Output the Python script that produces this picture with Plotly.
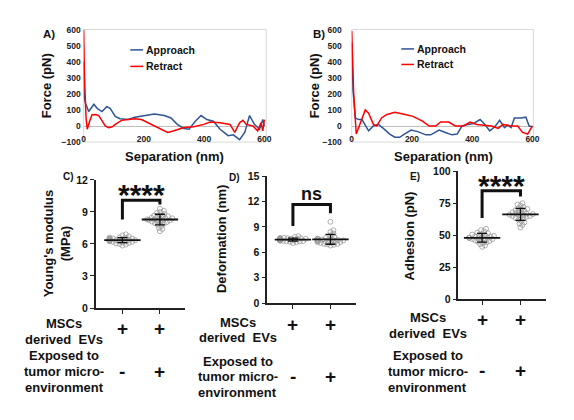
import numpy as np
import plotly.graph_objects as go

# the page body keeps its default 8px margin, so the figure is drawn 8px in from the corner
PAGE_W, PAGE_H, PAD = 574, 420, 8
W, H = PAGE_W - 2 * PAD, PAGE_H - 2 * PAD
FONT = "Liberation Sans, Arial, sans-serif"
BLUE = "#2F5597"
RED = "#FF0000"

###### Data

# A) force curves (separation nm, force pN)
A_APP_X = [0, 2, 6.5, 17, 34, 45, 61, 77, 88, 105, 121, 148, 170, 203, 235, 268, 290, 311,
           333, 350, 371, 390, 409, 431, 453, 480, 497, 518, 535, 551, 567, 584, 595, 600]
A_APP_Y = [400, 180, 140, 90, 135, 110, 90, 120, 110, 60, 45, 40, 55, 65, 75, 65, 50, 10,
           -15, -20, 30, 65, 40, 30, -20, -60, -55, -85, -40, 65, 10, -20, 40, 0]
A_RET_X = [0, 3, 8, 12, 20, 28, 40, 50, 62, 72, 83, 95, 105, 126, 148, 170, 192, 213, 246,
           279, 300, 333, 366, 399, 420, 453, 486, 502, 518, 529, 540, 562, 578, 589, 595, 600]
A_RET_Y = [600, 300, 50, -20, 30, 70, 72, 65, 30, 0, -10, -5, 10, 35, 40, 45, 40, 20, -10,
           -40, -30, -10, -5, 10, 25, 20, 10, -40, 20, 35, 10, 0, -30, 20, -30, 40]

# B) force curves
B_APP_X = [0, 4.4, 12, 23, 34, 45, 56, 72, 88, 105, 126, 143, 159, 175, 197, 219, 246, 262,
           290, 311, 333, 350, 366, 388, 404, 426, 442, 458, 475, 491, 507, 518, 529, 540,
           562, 578, 589, 600]
B_APP_Y = [520, 220, 50, 40, 40, 0, -30, 0, 10, -15, -50, -70, -70, -50, -25, -35, -55, -55,
           -25, -40, -55, -50, 0, 10, 15, 40, 10, -30, -5, 35, -10, 5, -10, 50,
           50, 55, 0, -5]
B_RET_X = [0, 6.5, 15, 28, 45, 56, 72, 83, 99, 115, 143, 170, 203, 235, 257, 279, 295, 322,
           344, 371, 393, 415, 442, 464, 486, 502, 529, 551, 567, 584, 595, 600]
B_RET_Y = [590, 200, -50, 20, 100, 80, 10, 0, 50, 70, 85, 75, 60, 30, 0, 0, 25, 25,
           0, 0, 25, 10, 5, 0, -15, 10, 0, 0, -40, -50, -15, 0]

# C) Young's modulus (MPa)
C_CTRL = [6.35, 6.2, 6.5, 6.4, 6.1, 6.6, 6.3, 6.45, 5.95, 6.8, 6.25, 6.55, 6.35, 6.15, 6.7,
          6.4, 6.0, 6.3, 6.9, 6.2, 6.5, 6.35, 6.05, 6.45, 6.6, 6.25, 6.4, 5.85, 6.3, 6.5]
C_TME = [8.3, 8.0, 8.6, 8.2, 7.8, 8.9, 8.4, 7.5, 8.7, 8.1, 9.3, 8.35, 7.9, 8.5, 8.25,
         7.2, 8.8, 8.45, 8.05, 9.0, 7.7, 8.3, 8.55, 7.4, 8.15, 8.65, 8.4, 7.95, 9.1, 8.2]
# D) Deformation (nm)
D_CTRL = [7.5, 7.4, 7.6, 7.55, 7.3, 7.7, 7.45, 7.5, 7.2, 7.8, 7.35, 7.65, 7.5, 7.4, 7.9,
          7.55, 7.25, 7.6, 7.45, 7.5, 7.7, 7.35, 7.1, 7.6, 7.5, 7.4, 7.65, 7.55, 7.3, 7.5]
D_TME = [7.4, 7.2, 7.6, 7.0, 7.5, 9.6, 7.3, 7.8, 6.9, 8.4, 7.45, 7.1, 7.65, 8.6, 7.35,
         6.8, 7.55, 7.25, 8.0, 7.4, 7.0, 7.7, 7.15, 7.5, 8.2, 7.3, 6.95, 7.6, 7.4, 7.2]
# E) Adhesion (pN)
E_CTRL = [48, 46, 50, 47, 44, 52, 49, 45, 55, 48.5, 42, 51, 47.5, 46.5, 53, 41, 49.5, 48,
          44.5, 50.5, 47, 43, 54, 48, 46, 51.5, 49, 45.5, 48, 50]
E_TME = [66, 64, 69, 62, 67, 72, 65, 60, 75, 68, 63, 70, 66.5, 58, 71, 64.5, 67.5, 56,
         69.5, 65.5, 73, 61, 68.5, 66, 63.5, 70.5, 59, 67, 74, 65]

# significance brackets: (left foot, top, right foot), label
C_BRACKET = (8.3, 10.1, 9.7)
D_BRACKET = (9.1, 11.65, 10.6)
E_BRACKET = (63.4, 84.8, 80.3)
C_SIG, D_SIG, E_SIG = "****", "ns", "****"
C_SIG_Y, D_SIG_Y, E_SIG_Y = 11.2, 12.9, 93.7

ROW_LABELS = ["MSCs", "derived\u00a0 EVs", "Exposed to", "tumor micro-", "environment"]
MSC_SIGNS = ["+", "+"]
TME_SIGNS = ["-", "+"]


###### Helpers

def px(x):
    # page pixel -> paper fraction
    return (x - PAD) / W


def py(y):
    return 1 - (y - PAD) / H


def note(x, y, text, size, xref="paper", yref="paper", **kw):
    kw.setdefault("xanchor", "center")
    kw.setdefault("yanchor", "middle")
    fig.add_annotation(x=x, y=y, xref=xref, yref=yref, text=text, showarrow=False,
                       font=dict(family=FONT, size=size, color="#111"), **kw)


def swarm(values, center, ppx, ppy, diam=3.2, maxoff=13):
    # simple beeswarm: place points in value order at the nearest free horizontal offset
    vals = np.asarray(values, dtype=float)
    offs = np.zeros(len(vals))
    placed = []
    cands = [0]
    for k in np.arange(0.5, maxoff + 0.01, 0.5):
        cands += [k, -k]
    for i in np.argsort(vals):
        yp = vals[i] * ppy
        chosen = cands[-1]
        for c in cands:
            if all((c - xo) ** 2 + (yp - yo) ** 2 >= diam ** 2 for xo, yo in placed):
                chosen = c
                break
        placed.append((chosen, yp))
        offs[i] = chosen
    return center + offs / ppx


fig = go.Figure()

###### A & B force curves

def force_panel(n, app_x, app_y, ret_x, ret_y, xdom, xrange, standoff):
    xa, ya = ("x", "y") if n == 1 else (f"x{n}", f"y{n}")
    fig.add_trace(go.Scatter(x=app_x, y=app_y, mode="lines", line=dict(color=BLUE, width=1.5),
                             xaxis=xa, yaxis=ya, showlegend=False))
    fig.add_trace(go.Scatter(x=ret_x, y=ret_y, mode="lines", line=dict(color=RED, width=1.5),
                             xaxis=xa, yaxis=ya, showlegend=False))
    sx = "" if n == 1 else str(n)
    fig.update_layout(**{
        f"xaxis{sx}": dict(domain=[px(xdom[0]), px(xdom[1])], range=xrange, anchor="free",
                          position=py(130), tickvals=[0, 200, 400, 600], showline=False,
                          showgrid=False, zeroline=False, ticks="",
                          tickfont=dict(family=FONT, size=8.5, color="#222", weight="bold")),
        f"yaxis{sx}": dict(domain=[py(140), py(24)], range=[-100, 600], anchor=xa,
                          tickvals=list(range(-100, 601, 100)), showline=False, showgrid=False,
                          zeroline=True, zerolinecolor="#bfbfbf", zerolinewidth=1, ticks="",
                          ticklabelstandoff=standoff,
                          tickfont=dict(family=FONT, size=8.5, color="#222", weight="bold")),
    })
    fig.add_shape(type="rect", xref=f"{xa} domain", yref=f"{ya} domain", x0=0, x1=1, y0=0, y1=1,
                  line=dict(color="#d9d9d9", width=1), layer="below")


force_panel(1, A_APP_X, A_APP_Y, A_RET_X, A_RET_Y, (82.7, 268), [0, 606.5], 2)
force_panel(2, B_APP_X, B_APP_Y, B_RET_X, B_RET_Y, (354.7, 539), [0, 603], 9)

# legends, axis titles, panel letters for A/B
for lx, ly0, ly1 in [(130, 45, 62), (405, 44, 60)]:
    for yy, col, name in [(ly0, BLUE, "Approach"), (ly1, RED, "Retract")]:
        fig.add_shape(type="line", xref="paper", yref="paper", x0=px(lx), x1=px(lx + 13),
                      y0=py(yy), y1=py(yy), line=dict(color=col, width=1.5))
        note(px(lx + 13.5), py(yy), f"<b>{name}</b>", 10.5, xanchor="left")

for cx, tx, letter, lx in [(45, 174.5, "A)", 39), (317, 447.5, "B)", 313)]:
    note(px(cx), py(82), "<b>Force (pN)</b>", 13, textangle=-90)
    note(px(tx), py(155), "<b>Separation (nm)</b>", 13)
    note(px(lx), py(29), f"<b>{letter}</b>", 11.5, xanchor="left")

###### C, D, E scatter panels

def dot_panel(n, ctrl, tme, xdom, xrange, ydom, yrange, ytick, bracket, sig, sig_y, sig_size,
              sig_shift, ytitle, ytitle_pos, letter, letter_pos, label_cx, label_ys, sign_ys):
    xa, ya = f"x{n}", f"y{n}"
    ppx = (xdom[1] - xdom[0]) / (xrange[1] - xrange[0])
    ppy = (ydom[0] - ydom[1]) / (yrange[1] - yrange[0])
    for cat, vals in [(1, ctrl), (2, tme)]:
        fig.add_trace(go.Scatter(
            x=swarm(vals, cat, ppx, ppy), y=vals, mode="markers", xaxis=xa, yaxis=ya,
            marker=dict(symbol="circle-open", size=5, color="#9a9a9a", line=dict(width=0.8)),
            showlegend=False))
        fig.add_trace(go.Scatter(
            x=[cat], y=[np.mean(vals)], mode="markers", xaxis=xa, yaxis=ya,
            marker=dict(symbol="line-ew-open", size=26, color="#111", line=dict(width=1.8, color="#111")),
            error_y=dict(type="data", array=[np.std(vals, ddof=1)], color="#111", thickness=1.3, width=5),
            showlegend=False))
    fig.add_trace(go.Scatter(x=[1, 1, 2, 2], y=[bracket[0], bracket[1], bracket[1], bracket[2]],
                             mode="lines", line=dict(color="#111", width=3), xaxis=xa, yaxis=ya,
                             showlegend=False))
    note(1.5, sig_y, f"<b>{sig}</b>", sig_size, xref=xa, yref=ya, yshift=sig_shift)
    fig.update_layout(**{
        f"xaxis{n}": dict(domain=[px(xdom[0]), px(xdom[1])], range=xrange, anchor=ya,
                          tickvals=[1, 2], showticklabels=False, ticks="outside", ticklen=4,
                          tickwidth=1.3, tickcolor="#222", showline=True, linecolor="#222",
                          linewidth=1.5, showgrid=False, zeroline=False),
        f"yaxis{n}": dict(domain=[py(ydom[0]), py(ydom[1])], range=yrange, anchor=xa,
                          tickvals=ytick, ticks="outside", ticklen=4, tickwidth=1.3, tickcolor="#222",
                          showline=True, linecolor="#222", linewidth=1.5, showgrid=False,
                          zeroline=False,
                          tickfont=dict(family=FONT, size=10.5, color="#111", weight="bold")),
    })
    note(px(ytitle_pos[0]), py(ytitle_pos[1]), f"<b>{ytitle}</b>", 13, textangle=-90)
    note(px(letter_pos[0]), py(letter_pos[1]), f"<b>{letter}</b>", 10, xanchor="left")
    for txt, yy in zip(ROW_LABELS, label_ys):
        note(px(label_cx), py(yy), f"<b>{txt}</b>", 13)
    for signs, yy in zip([MSC_SIGNS, TME_SIGNS], sign_ys):
        for cat, s in zip([1, 2], signs):
            note(cat, py(yy), f"<b>{s}</b>", 19, xref=xa)


dot_panel(3, C_CTRL, C_TME, (95, 186), [0.29, 2.68], (311, 179), [0, 12], [0, 3, 6, 9, 12],
          C_BRACKET, C_SIG, C_SIG_Y, 30, -6, "Young's modulus<br>(MPa)", (56, 244), "C)", (60, 175),
          63, [326.7, 343, 360, 376.7, 393], [331.7, 376])
dot_panel(4, D_CTRL, D_TME, (269, 359), [0.316, 2.68], (306, 175), [0, 15], [0, 3, 6, 9, 12, 15],
          D_BRACKET, D_SIG, D_SIG_Y, 18, 0, "Deformation (nm)", (222, 240), "D)", (228, 176),
          239, [325.7, 341.7, 365.7, 381.7, 397.7], [327.7, 381.5])
dot_panel(5, E_CTRL, E_TME, (463, 552), [0.385, 2.67], (302, 170), [0, 100], [0, 25, 50, 75, 100],
          E_BRACKET, E_SIG, E_SIG_Y, 30, -6, "Adhesion (pN)", (413, 237), "E)", (412, 175),
          432, [321, 337, 360, 376.7, 392.7], [323, 375])

fig.update_layout(width=W, height=H, margin=dict(l=0, r=0, t=0, b=0),
                  paper_bgcolor="white", plot_bgcolor="white", showlegend=False)

fig.write_html("out.html")
